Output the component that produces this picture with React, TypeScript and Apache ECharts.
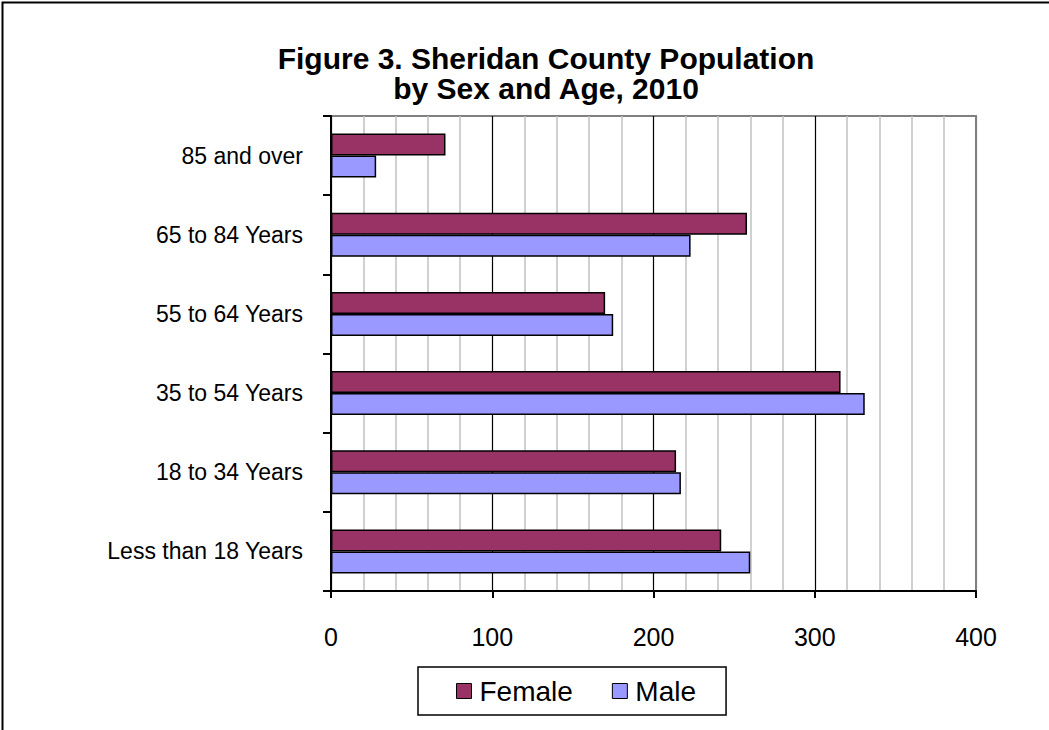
import React, { useEffect, useRef } from "react";
import * as echarts from "echarts";

const categories = [
  "Less than 18 Years",
  "18 to 34 Years",
  "35 to 54 Years",
  "55 to 64 Years",
  "65 to 84 Years",
  "85 and over",
];
const femaleValues = [242, 214, 316, 170, 258, 71];
const maleValues = [260, 217, 331, 175, 223, 28];
const xTicks = [0, 100, 200, 300, 400];

const FONT = '"Liberation Sans", Arial, sans-serif';

export default function App() {
  const ref = useRef<HTMLDivElement>(null);
  useEffect(() => {
    if (!ref.current) return;
    const chart = echarts.init(ref.current, undefined, { renderer: "svg" });
    chart.setOption({
      animation: false,
      backgroundColor: "#ffffff",
      textStyle: { fontFamily: FONT },
      title: {
        text: "Figure 3. Sheridan County Population\nby Sex and Age, 2010",
        left: 541,
        top: 38,
        textAlign: "center",
        textStyle: {
          fontFamily: FONT,
          fontWeight: "bold",
          fontSize: 30,
          lineHeight: 30,
          color: "#000",
        },
      },
      legend: {
        data: ["Female", "Male"],
        left: 418,
        top: 667,
        textStyle: { fontFamily: FONT, fontSize: 28, color: "#000", padding: [0, 0, 0, 3] },
        icon: "rect",
        itemWidth: 15,
        itemHeight: 15,
        itemGap: 39,
        itemStyle: { borderColor: "#000", borderWidth: 1 },
        backgroundColor: "#fff",
        borderColor: "#000",
        borderWidth: 1.5,
        padding: [10, 30, 10, 38],
      },
      grid: {
        left: 331,
        top: 116,
        right: 73,
        bottom: 139,
        containLabel: false,
        show: true,
        borderColor: "#808080",
        borderWidth: 2,
      },
      xAxis: {
        type: "value",
        min: xTicks[0],
        max: xTicks[xTicks.length - 1],
        interval: 100,
        axisLine: { show: true, lineStyle: { color: "#000", width: 2 } },
        axisTick: { show: true, length: 7, lineStyle: { color: "#000", width: 2 } },
        axisLabel: {
          fontFamily: FONT,
          fontSize: 25,
          color: "#000",
          margin: 33,
        },
        splitLine: {
          show: true,
          lineStyle: { color: ["#000", "#000", "#000", "#000", "#808080"], width: 1.2 },
        },
        minorTick: { show: false, splitNumber: 5 },
        minorSplitLine: { show: true, lineStyle: { color: "#c0c0c0", width: 1.5 } },
      },
      yAxis: {
        type: "category",
        data: categories,
        axisLine: { show: true, lineStyle: { color: "#000", width: 2 } },
        axisTick: { show: true, length: 8, inside: false, lineStyle: { color: "#000", width: 2 } },
        axisLabel: {
          fontFamily: FONT,
          fontSize: 23,
          color: "#000",
          margin: 28,
        },
        splitLine: { show: false },
      },
      series: [
        {
          name: "Female",
          type: "bar",
          data: femaleValues,
          barWidth: 22,
          barGap: "0%",
          itemStyle: { color: "#993366", borderColor: "#000", borderWidth: 1.5 },
        },
        {
          name: "Male",
          type: "bar",
          data: maleValues,
          barWidth: 22,
          barGap: "0%",
          itemStyle: { color: "#9999FF", borderColor: "#000", borderWidth: 1.5 },
        },
      ],
      graphic: [
        {
          type: "rect",
          left: 0,
          top: 0,
          shape: { x: 7, y: 9, width: 1100, height: 800 },
          style: { fill: "none", stroke: "#000", lineWidth: 2 },
          silent: true,
        },
      ],
    });
    return () => chart.dispose();
  }, []);
  return (
    <div
      ref={ref}
      style={{ position: "absolute", left: 0, top: 0, width: 1049, height: 730 }}
    />
  );
}
